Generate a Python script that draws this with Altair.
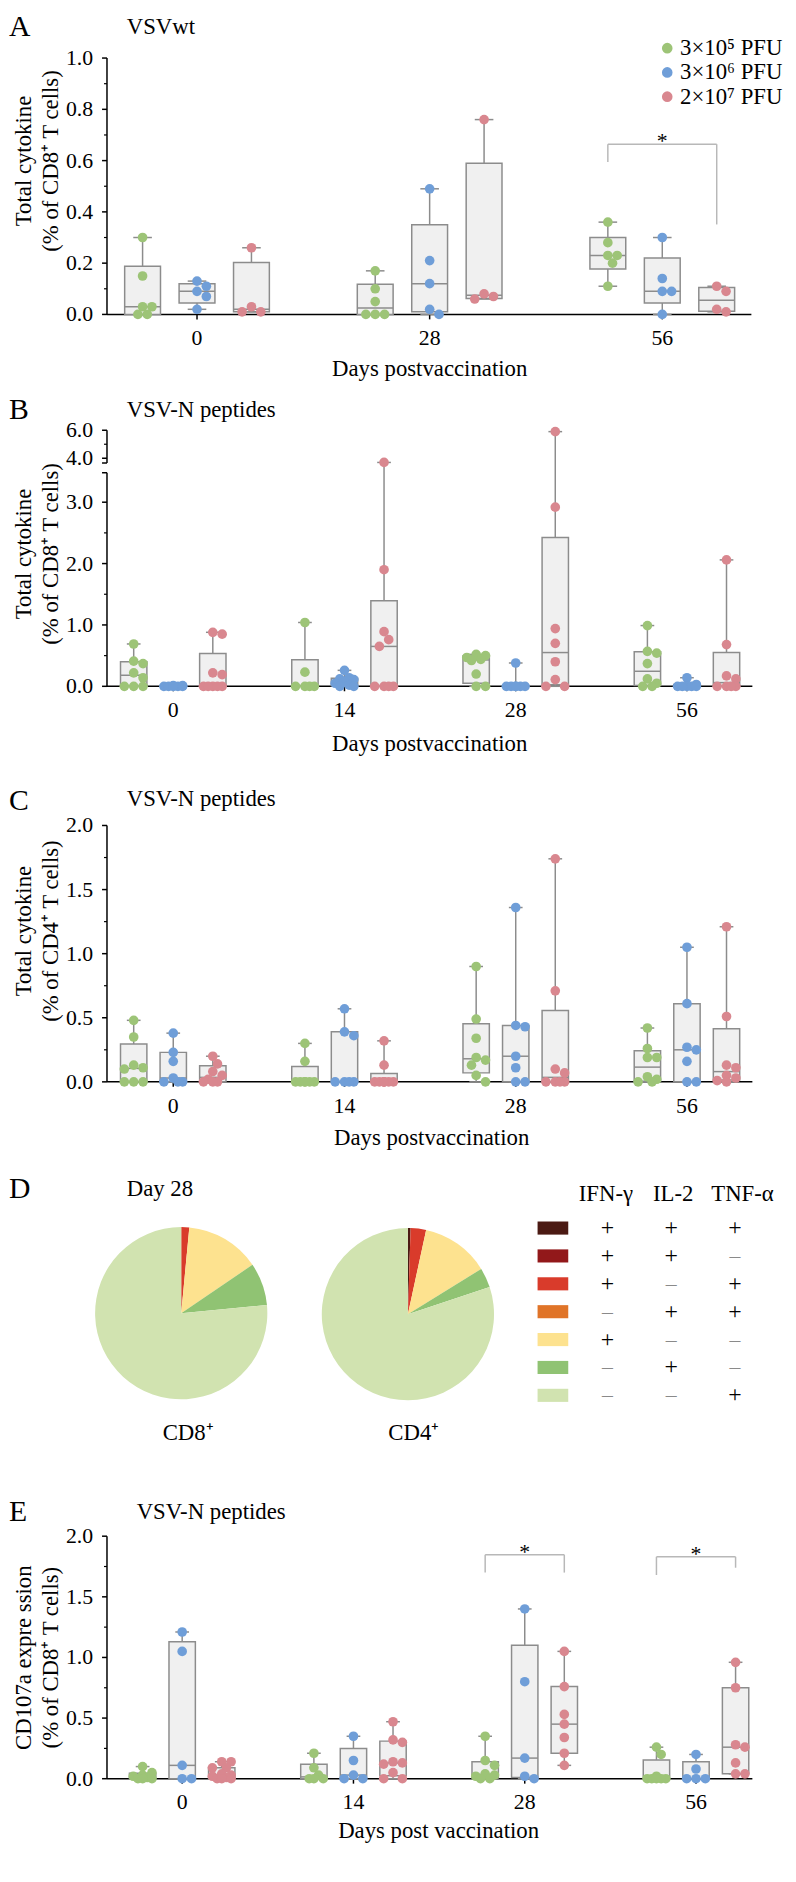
import altair as alt
import numpy as np
import pandas as pd

FONT = "Liberation Serif"
W, H = 680, 1866

DOSES = ["3×10⁵ PFU", "3×10⁶ PFU", "2×10⁷ PFU"]
DOSE_COLORS = ["#9dc477", "#6f9ed8", "#d9878f"]
BOX_FILL, BOX_LINE, BRACKET_COLOR = "#f0f0f0", "#8c8c8c", "#b8b8b8"
TICK_FS, TITLE_FS = 22, 23

# ---------------- Panel A : VSVwt, CD8 ----------------
A_days = ["0", "28", "56"]
A_low = [[0.30, 0.15, 0.03, 0.03, 0.00, 0.00],
         [0.17, 0.10, 0.05, 0.00, 0.00, 0.00],
         [0.36, 0.28, 0.23, 0.23, 0.20, 0.11]]
A_mid = [[0.13, 0.11, 0.09, 0.07, 0.02],
         [0.49, 0.21, 0.12, 0.02, 0.00],
         [0.30, 0.14, 0.09, 0.09, 0.00]]
A_high = [[0.26, 0.03, 0.01, 0.01],
          [0.76, 0.08, 0.07, 0.06],
          [0.11, 0.09, 0.02, 0.01]]
A_ticks = [0.0, 0.2, 0.4, 0.6, 0.8, 1.0]
A_minor = [0.1, 0.3, 0.5, 0.7, 0.9]
A_brackets = [dict(day=2, top=0.664, leg1=0.595, leg2=0.351)]

# ---------------- Panel B : VSV-N peptides, CD8 ----------------
BCE_days = ["0", "14", "28", "56"]
B_low = [[0.69, 0.41, 0.37, 0.22, 0.14, 0.00, 0.00, 0.00],
         [1.04, 0.23, 0.00, 0.00, 0.00, 0.00],
         [0.52, 0.50, 0.47, 0.44, 0.42, 0.20, 0.00, 0.00],
         [0.99, 0.57, 0.54, 0.37, 0.12, 0.05, 0.00, 0.00]]
B_mid = [[0.01, 0.01, 0.00, 0.00, 0.00, 0.00, 0.00],
         [0.26, 0.14, 0.12, 0.11, 0.08, 0.05, 0.02, 0.00, 0.00],
         [0.38, 0.00, 0.00, 0.00, 0.00, 0.00, 0.00],
         [0.14, 0.03, 0.00, 0.00, 0.00, 0.00, 0.00]]
B_high = [[0.88, 0.85, 0.22, 0.19, 0.00, 0.00, 0.00, 0.00, 0.00],
          [3.70, 1.90, 0.89, 0.76, 0.65, 0.00, 0.00, 0.00, 0.00],
          [5.90, 2.92, 0.94, 0.70, 0.40, 0.11, 0.00, 0.00],
          [2.06, 0.68, 0.17, 0.12, 0.00, 0.00, 0.00, 0.00]]
B_ticks = [0.0, 1.0, 2.0, 3.0, 4.0, 6.0]
B_minor = [0.5, 1.5, 2.5, 5.0]
B_break = [3.48, 3.66]

# ---------------- Panel C : VSV-N peptides, CD4 ----------------
C_low = [[0.48, 0.35, 0.13, 0.11, 0.10, 0.00, 0.00, 0.00],
         [0.30, 0.16, 0.00, 0.00, 0.00, 0.00, 0.00, 0.00],
         [0.90, 0.49, 0.34, 0.19, 0.17, 0.13, 0.05, 0.00],
         [0.42, 0.26, 0.19, 0.19, 0.04, 0.02, 0.00, 0.00]]
C_mid = [[0.38, 0.23, 0.16, 0.03, 0.00, 0.00, 0.00],
         [0.57, 0.39, 0.36, 0.00, 0.00, 0.00, 0.00],
         [1.36, 0.44, 0.43, 0.20, 0.11, 0.00, 0.00],
         [1.05, 0.61, 0.27, 0.25, 0.16, 0.00, 0.00]]
C_high = [[0.20, 0.14, 0.08, 0.05, 0.02, 0.00, 0.00, 0.00],
          [0.32, 0.13, 0.00, 0.00, 0.00, 0.00, 0.00, 0.00, 0.00],
          [1.74, 0.71, 0.10, 0.07, 0.00, 0.00, 0.00, 0.00],
          [1.21, 0.51, 0.13, 0.11, 0.05, 0.03, 0.01, 0.00]]
CE_ticks = [0.0, 0.5, 1.0, 1.5, 2.0]
CE_minor = [0.25, 0.75, 1.25, 1.75]

# ---------------- Panel D : Day 28 cytokine profiles ----------------
D_combos = ["+++", "++–", "+–+", "–++", "+––", "–+–", "––+"]
D_colors = ["#4b1a13", "#92181a", "#d93b2b", "#e07428", "#fde28f", "#90c373", "#d1e3b0"]
D_cd8 = [0.0, 0.0, 1.5, 0.0, 14.0, 8.0, 76.5]
D_cd4 = [0.5, 0.0, 2.9, 0.0, 12.8, 3.7, 80.1]
D_heads = ["IFN-γ", "IL-2", "TNF-α"]

# ---------------- Panel E : CD107a ----------------
E_low = [[0.10, 0.05, 0.03, 0.02, 0.01, 0.00, 0.00, 0.00],
         [0.21, 0.09, 0.03, 0.00, 0.00, 0.00],
         [0.35, 0.15, 0.11, 0.04, 0.03, 0.02, 0.00, 0.00],
         [0.26, 0.20, 0.02, 0.00, 0.00, 0.00, 0.00, 0.00]]
E_mid = [[1.21, 1.05, 0.11, 0.00, 0.00],
         [0.35, 0.15, 0.03, 0.00, 0.00],
         [1.40, 0.80, 0.17, 0.02, 0.00],
         [0.20, 0.08, 0.00, 0.00, 0.00]]
E_high = [[0.14, 0.14, 0.09, 0.09, 0.04, 0.03, 0.02, 0.01, 0.00, 0.00, 0.00],
          [0.47, 0.32, 0.30, 0.14, 0.13, 0.12, 0.05, 0.00, 0.00],
          [1.05, 0.76, 0.53, 0.45, 0.34, 0.21, 0.11],
          [0.96, 0.75, 0.28, 0.26, 0.13, 0.04, 0.04]]
E_brackets = [dict(day=2, top=1.847, leg1=1.70, leg2=1.70),
              dict(day=3, top=1.83, leg1=1.68, leg2=1.74)]


def quart(v, p):
    return float(np.percentile(v, p, method="weibull"))


def swarm(vals, ymap, xpx, dia=10.5):
    """simple beeswarm offsets (group units) so dots don't pile up"""
    step, maxoff = 0.45 * dia, 0.06 * xpx
    cands = [0.0]
    k = 1
    while k * step <= maxoff + 1e-9:
        cands += [k * step, -k * step]
        k += 1
    placed, offs = [], [0.0] * len(vals)
    for i in np.argsort(-np.asarray(vals), kind="stable"):
        y = ymap(vals[i])
        best, bestd, chosen = None, -1.0, None
        for c in cands:
            d = min([np.hypot(c - px, y - py) for px, py in placed], default=1e9)
            if d >= 0.8 * dia:
                chosen = c
                break
            if d > bestd:
                bestd, best = d, c
        if chosen is None:
            chosen = best
        placed.append((chosen, y))
        offs[i] = chosen / xpx
    return offs


def label(text, x, y, size=TITLE_FS, align="left", color="black", angle=0):
    return (alt.Chart(pd.DataFrame({"t": [text]}))
            .mark_text(font=FONT, fontSize=size, align=align, baseline="middle", color=color,
                       angle=angle)
            .encode(text="t:N", x=alt.value(x), y=alt.value(y)))


def panel(series, days, xdom, xrng, ydom, yrng, yticks, yminor, ytitle, ytitle_y,
          xtitle, xtitle_x, xtitle_y, off, brackets=(), ybreak=None):
    xs = alt.Scale(domain=xdom, range=xrng, nice=False, zero=False)
    ys = alt.Scale(domain=ydom, range=yrng, nice=False, zero=False)
    xpx = (xrng[1] - xrng[0]) / (xdom[1] - xdom[0])
    ymap = lambda v: float(np.interp(v, ydom, yrng))
    base = yrng[0]
    half, cap = 0.077, 0.04
    boxes, pts = [], []
    for di, (dose, ser) in enumerate(zip(DOSES, series)):
        for g, vals in enumerate(ser):
            pos = g + (di - 1) * off
            boxes.append(dict(pos=pos, x1=pos - half, x2=pos + half, c1=pos - cap, c2=pos + cap,
                              q1=quart(vals, 25), med=quart(vals, 50), q3=quart(vals, 75),
                              lo=min(vals), hi=max(vals)))
            for v, j in zip(vals, swarm(vals, ymap, xpx)):
                pts.append(dict(px=pos + j, val=v, dose=dose))
    bdf, pdf = pd.DataFrame(boxes), pd.DataFrame(pts)

    X = lambda f: alt.X(f, scale=xs, axis=None)
    Y = lambda f: alt.Y(f, scale=ys, axis=None)
    layers = []

    # ---- y axis ----
    if ybreak is None:
        seg = pd.DataFrame({"a": [ydom[0]], "b": [ydom[-1]]})
    else:
        seg = pd.DataFrame({"a": [ydom[0], ybreak[1]], "b": [ybreak[0], ydom[-1]]})
        layers.append(alt.Chart(pd.DataFrame({"v": ybreak})).mark_rule(color="black", strokeWidth=1.5)
                      .encode(y=Y("v:Q"), x=alt.value(-5), x2=alt.value(0)))
    layers.append(alt.Chart(seg).mark_rule(color="black", strokeWidth=1.5)
                  .encode(y=Y("a:Q"), y2="b:Q", x=alt.value(0)))
    ytk = pd.DataFrame({"v": yticks, "lab": [f"{t:.1f}" for t in yticks]})
    layers.append(alt.Chart(ytk).mark_rule(color="black", strokeWidth=1.5)
                  .encode(y=Y("v:Q"), x=alt.value(-5), x2=alt.value(0)))
    layers.append(alt.Chart(ytk).mark_text(font=FONT, fontSize=TICK_FS, align="right",
                                           baseline="middle", color="black")
                  .encode(y=Y("v:Q"), x=alt.value(-14), text="lab:N"))
    layers.append(alt.Chart(pd.DataFrame({"v": yminor})).mark_rule(color="black", strokeWidth=1.2)
                  .encode(y=Y("v:Q"), x=alt.value(-3), x2=alt.value(0)))
    layers.append(label(ytitle[0], -84, ytitle_y, align="center", angle=270))
    layers.append(label(ytitle[1], -56, ytitle_y, align="center", angle=270))

    # ---- x axis ----
    layers.append(alt.Chart(pd.DataFrame({"a": [xdom[0]], "b": [xdom[1]], "y": [ydom[0]]}))
                  .mark_rule(color="black", strokeWidth=1.5)
                  .encode(x=X("a:Q"), x2="b:Q", y=Y("y:Q")))
    xtk = pd.DataFrame({"g": list(range(len(days))), "lab": days})
    layers.append(alt.Chart(xtk).mark_rule(color="black", strokeWidth=1.5)
                  .encode(x=X("g:Q"), y=alt.value(base), y2=alt.value(base + 5)))
    layers.append(alt.Chart(xtk).mark_text(font=FONT, fontSize=TICK_FS, baseline="middle",
                                           color="black")
                  .encode(x=X("g:Q"), y=alt.value(base + 24), text="lab:N"))
    layers.append(label(xtitle, xtitle_x, base + xtitle_y, align="center"))

    # ---- boxes ----
    layers.append(alt.Chart(bdf).mark_rule(color=BOX_LINE, strokeWidth=1.5)
                  .encode(x=X("pos:Q"), y=Y("q3:Q"), y2="hi:Q"))
    layers.append(alt.Chart(bdf).mark_rule(color=BOX_LINE, strokeWidth=1.5)
                  .encode(x=X("pos:Q"), y=Y("lo:Q"), y2="q1:Q"))
    layers.append(alt.Chart(bdf).mark_rect(fill=BOX_FILL, stroke=BOX_LINE, strokeWidth=1.5)
                  .encode(x=X("x1:Q"), x2="x2:Q", y=Y("q1:Q"), y2="q3:Q"))
    layers.append(alt.Chart(bdf).mark_rule(color=BOX_LINE, strokeWidth=1.5)
                  .encode(x=X("x1:Q"), x2="x2:Q", y=Y("med:Q")))
    layers.append(alt.Chart(bdf).mark_rule(color=BOX_LINE, strokeWidth=1.5)
                  .encode(x=X("c1:Q"), x2="c2:Q", y=Y("hi:Q")))
    layers.append(alt.Chart(bdf).mark_rule(color=BOX_LINE, strokeWidth=1.5)
                  .encode(x=X("c1:Q"), x2="c2:Q", y=Y("lo:Q")))
    layers.append(alt.Chart(pdf).mark_circle(size=95, opacity=1)
                  .encode(x=X("px:Q"), y=Y("val:Q"),
                          color=alt.Color("dose:N", scale=alt.Scale(domain=DOSES, range=DOSE_COLORS),
                                          legend=None)))
    if brackets:
        br = pd.DataFrame([dict(g1=b["day"] - off, g2=b["day"] + off, gm=b["day"],
                                top=b["top"], l1=b["leg1"], l2=b["leg2"], s="*") for b in brackets])
        layers.append(alt.Chart(br).mark_rule(color=BRACKET_COLOR, strokeWidth=1.5)
                      .encode(x=X("g1:Q"), x2="g2:Q", y=Y("top:Q")))
        layers.append(alt.Chart(br).mark_rule(color=BRACKET_COLOR, strokeWidth=1.5)
                      .encode(x=X("g1:Q"), y=Y("top:Q"), y2="l1:Q"))
        layers.append(alt.Chart(br).mark_rule(color=BRACKET_COLOR, strokeWidth=1.5)
                      .encode(x=X("g2:Q"), y=Y("top:Q"), y2="l2:Q"))
        layers.append(alt.Chart(br).mark_text(font=FONT, fontSize=22, baseline="alphabetic", dy=4,
                                              color="black")
                      .encode(x=X("gm:Q"), y=Y("top:Q"), text="s:N"))
    return alt.layer(*layers)


pA = panel([A_low, A_mid, A_high], A_days, [-0.387, 2.383], [0, 651], [0, 1], [300, 41],
           A_ticks, A_minor, ["Total cytokine", "(% of CD8⁺ T cells)"], 145,
           "Days postvaccination", 326, 55, 0.234, brackets=A_brackets)
pB = panel([B_low, B_mid, B_high], BCE_days, [-0.387, 3.382], [0, 652],
           [0, 3.5, 3.66, 6.0], [675.7, 458.7, 450.1, 417],
           B_ticks, B_minor, ["Total cytokine", "(% of CD8⁺ T cells)"], 542,
           "Days postvaccination", 326, 58, 0.231, ybreak=B_break)
pC = panel([C_low, C_mid, C_high], BCE_days, [-0.387, 3.382], [0, 652], [0, 2], [1075.3, 816.3],
           CE_ticks, CE_minor, ["Total cytokine", "(% of CD4⁺ T cells)"], 923,
           "Days postvaccination", 328, 57, 0.231)
pE = panel([E_low, E_mid, E_high], BCE_days, [-0.439, 3.329], [0, 652], [0, 2], [1779.3, 1534.3],
           CE_ticks, CE_minor, ["CD107a expre ssion", "(% of CD8⁺ T cells)"], 1657,
           "Days post vaccination", 335, 53, 0.231, brackets=E_brackets)

# ---- dose legend (panel A, top right) ----
leg_df = pd.DataFrame({"i": [0, 1, 2], "dose": DOSES})
leg_scale = alt.Scale(domain=[0, 2], range=[31, 80], nice=False, zero=False)
leg_pts = (alt.Chart(leg_df).mark_circle(size=115, opacity=1)
           .encode(y=alt.Y("i:Q", scale=leg_scale, axis=None), x=alt.value(566),
                   color=alt.Color("dose:N", scale=alt.Scale(domain=DOSES, range=DOSE_COLORS),
                                   legend=None)))
leg_txt = (alt.Chart(leg_df).mark_text(font=FONT, fontSize=TITLE_FS, align="left", baseline="middle",
                                       color="black")
           .encode(y=alt.Y("i:Q", scale=leg_scale, axis=None), x=alt.value(579), text="dose:N"))
pLeg = alt.layer(leg_pts, leg_txt)

# ---- Panel D ----
pie_rows = []
for cell, vals in (("CD8", D_cd8), ("CD4", D_cd4)):
    for i, (combo, col, v) in enumerate(zip(D_combos, D_colors, vals)):
        pie_rows.append(dict(cell=cell, order=i, combo=combo, hex=col, pct=v))
pie_df = pd.DataFrame(pie_rows)


def pie(cell, cx, cy):
    return (alt.Chart(pie_df[pie_df.cell == cell]).mark_arc(radius=87)
            .encode(theta=alt.Theta("pct:Q", stack=True, scale=alt.Scale(domain=[0, 100])),
                    order=alt.Order("order:Q"),
                    color=alt.Color("hex:N", scale=None),
                    x=alt.value(cx), y=alt.value(cy)))


tab_rows = []
for i, (combo, col) in enumerate(zip(D_combos, D_colors)):
    for j, s in enumerate(combo):
        tab_rows.append(dict(row=i, r1=i - 0.235, r2=i + 0.235, col=j, sym=s, hex=col))
tab_df = pd.DataFrame(tab_rows)
row_scale = alt.Scale(domain=[-1.2, 6], range=[1189.2, 1392], nice=False, zero=False)
col_scale = alt.Scale(domain=[0, 2], range=[505.5, 634.5], nice=False, zero=False)

swatches = (alt.Chart(tab_df[tab_df.col == 0]).mark_rect()
            .encode(y=alt.Y("r1:Q", scale=row_scale, axis=None), y2="r2:Q",
                    x=alt.value(435), x2=alt.value(466), color=alt.Color("hex:N", scale=None)))
plus = (alt.Chart(tab_df[tab_df.sym == "+"]).mark_text(font=FONT, fontSize=24, color="black",
                                                       baseline="middle")
        .encode(y=alt.Y("row:Q", scale=row_scale, axis=None),
                x=alt.X("col:Q", scale=col_scale, axis=None), text="sym:N"))
minus = (alt.Chart(tab_df[tab_df.sym == "–"]).mark_text(font=FONT, fontSize=22, color="#8a8a8a",
                                                        baseline="middle")
         .encode(y=alt.Y("row:Q", scale=row_scale, axis=None),
                 x=alt.X("col:Q", scale=col_scale, axis=None), text="sym:N"))
pD = alt.layer(pie("CD8", 75, 1309), pie("CD4", 304, 1310), swatches, plus, minus)

texts = [
    label("A", -99, 10, 30), label("VSVwt", 20, 10),
    label("B", -99, 397, 30), label("VSV-N peptides", 20, 397),
    label("C", -99, 792, 30), label("VSV-N peptides", 20, 790),
    label("D", -99, 1184, 30), label("Day 28", 20, 1184),
    label("E", -99, 1510, 30), label("VSV-N peptides", 30, 1510),
    label("CD8⁺", 82, 1430, align="center"), label("CD4⁺", 310, 1430, align="center"),
    label(D_heads[0], 504, 1189, align="center"), label(D_heads[1], 572, 1189, align="center"),
    label(D_heads[2], 642, 1189, align="center"),
]

chart = (alt.layer(pA, pB, pC, pD, pE, pLeg, *texts)
         .resolve_scale(x="independent", y="independent", color="independent")
         .properties(width=W, height=H, padding={"left": 100, "top": 0, "right": 8, "bottom": 0},
                     autosize=alt.AutoSizeParams(type="none"), background="white")
         .configure_view(stroke=None)
         .configure_text(font=FONT))

chart.save("out.html", embed_options={"renderer": "svg", "actions": False})
